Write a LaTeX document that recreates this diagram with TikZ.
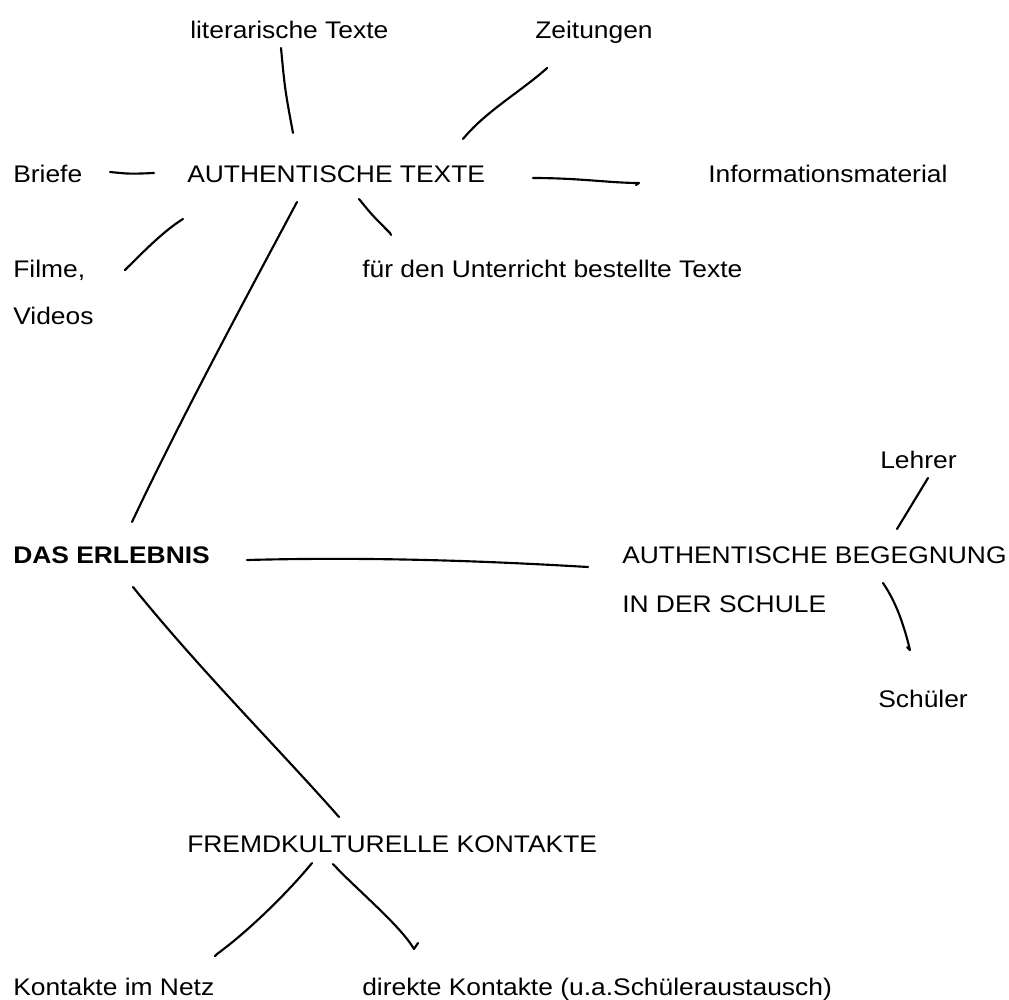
\documentclass[tikz,border=0pt]{standalone}
\usepackage{fontspec}
\setmainfont[FakeStretch=1.1]{Liberation Sans}
\begin{document}
\begin{tikzpicture}[x=0.75pt,y=-0.75pt,
  lbl/.style={anchor=base west,inner sep=0pt,font=\fontsize{18pt}{20pt}\selectfont},
  conn/.style={line width=1.6pt,line cap=round,line join=round,black}]
\useasboundingbox (0,0) rectangle (1009,999);
% labels
\node[lbl] (lit)   at (190,39)  {literarische Texte};
\node[lbl] (zeit)  at (535,39)  {Zeitungen};
\node[lbl] (brief) at (13,182)  {Briefe};
\node[lbl] (auth)  at (187,182) {AUTHENTISCHE TEXTE};
\node[lbl] (info)  at (708,182) {Informationsmaterial};
\node[lbl] (film)  at (13,277)  {Filme,};
\node[lbl] (vid)   at (13,324)  {Videos};
\node[lbl] (fuer)  at (362,277) {für den Unterricht bestellte Texte};
\node[lbl] (lehr)  at (880,468) {Lehrer};
\node[lbl,font=\fontsize{18pt}{20pt}\selectfont\bfseries] (erl) at (13,563) {DAS ERLEBNIS};
\node[lbl] (beg)   at (622,563) {AUTHENTISCHE BEGEGNUNG};
\node[lbl] (schule) at (622,612) {IN DER SCHULE};
\node[lbl] (schu)  at (878,707) {Schüler};
\node[lbl] (frem)  at (187,852) {FREMDKULTURELLE KONTAKTE};
\node[lbl] (netz)  at (13,995)  {Kontakte im Netz};
\node[lbl] (dir)   at (362,995) {direkte Kontakte (u.a.Schüleraustausch)};
% connector end points
\coordinate (litA) at (281,48);   \coordinate (litB) at (293,133);
\coordinate (zeiA) at (546,69);   \coordinate (zeiB) at (463,139);
\coordinate (briA) at (110,172);  \coordinate (briB) at (154,173);
\coordinate (infA) at (533,178);  \coordinate (infB) at (639,183);
\coordinate (filA) at (183,219);  \coordinate (filB) at (125,270);
\coordinate (erlA) at (297,202);  \coordinate (erlB) at (132,522);
\coordinate (fueA) at (359,199);  \coordinate (fueB) at (390,233);
\coordinate (lehA) at (928,478);  \coordinate (lehB) at (897,529);
\coordinate (begA) at (247,560);  \coordinate (begB) at (588,567);
\coordinate (schA) at (883,583);  \coordinate (schB) at (910,650);
\coordinate (freA) at (133,587);  \coordinate (freB) at (339,817);
\coordinate (netA) at (312,863);  \coordinate (netB) at (217,954);
\coordinate (dirA) at (333,864);  \coordinate (dirB) at (414,949);
% connectors
\draw[conn] (litA) .. controls (285,90) .. (litB);
\draw[conn] (zeiA) -- (547,68);
\draw[conn] (zeiA) .. controls (520,92) and (485,112) .. (zeiB);
\draw[conn] (briA) .. controls (130,174) .. (briB);
\draw[conn] (infA) .. controls (580,178) and (610,183) .. (infB) -- (636,185);
\draw[conn] (filA) .. controls (165,230) and (145,250) .. (filB);
\draw[conn] (erlA) .. controls (250,290) and (180,420) .. (erlB);
\draw[conn] (fueA) .. controls (372,215) .. (fueB) -- (391,235);
\draw[conn] (lehA) -- (lehB);
\draw[conn] (begA) .. controls (360,557) and (470,560) .. (begB);
\draw[conn] (schA) .. controls (898,605) and (905,630) .. (schB) -- (907,647);
\draw[conn] (freA) .. controls (200,670) and (280,750) .. (freB);
\draw[conn] (netA) .. controls (290,890) and (250,930) .. (netB) -- (215,956);
\draw[conn] (dirA) .. controls (355,888) and (400,925) .. (dirB) -- (418,943);
\end{tikzpicture}
\end{document}
